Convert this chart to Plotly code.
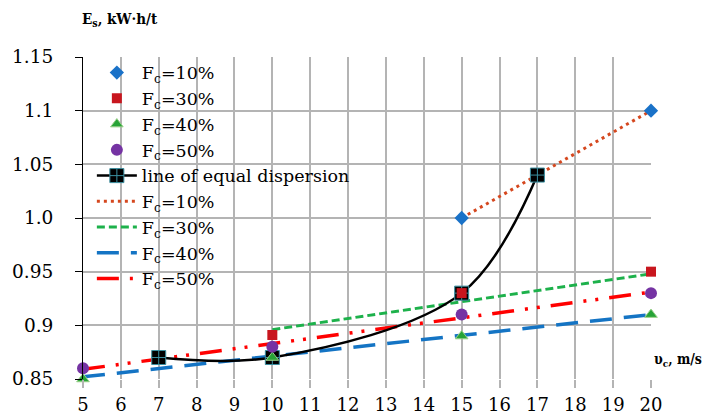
import plotly.graph_objects as go

# ---- data ----
x_f10 = [15, 20]
y_f10 = [1.00, 1.10]
x_f30 = [10, 15, 20]
y_f30 = [0.891, 0.930, 0.950]
x_f40 = [5, 10, 15, 20]
y_f40 = [0.850, 0.870, 0.890, 0.910]
x_f50 = [5, 10, 15, 20]
y_f50 = [0.860, 0.880, 0.910, 0.930]

x_equal = [7, 10, 15, 17]
y_equal = [0.870, 0.870, 0.930, 1.040]

# trend lines (end points)
x_t10 = [15, 20]
y_t10 = [1.000, 1.100]
x_t30 = [10, 20]
y_t30 = [0.896, 0.948]
x_t40 = [5, 20]
y_t40 = [0.852, 0.910]
x_t50 = [5, 20]
y_t50 = [0.859, 0.931]

x_ticks = list(range(5, 21))
y_ticks = [0.85, 0.90, 0.95, 1.00, 1.05, 1.10, 1.15]
y_tick_text = ["0.85", "0.9", "0.95", "1.0", "1.05", "1.1", "1.15"]

SERIF = "DejaVu Serif"
SERIF_COND = "DejaVu Serif Condensed, DejaVu Serif"
lbl = "F<sub>c</sub>=%s"

fig = go.Figure()

# trend lines
fig.add_trace(go.Scatter(x=x_t10, y=y_t10, mode="lines", name=lbl % "10%",
                         line=dict(color="#D5471E", width=3, dash="3px,4px"), legendrank=6))
fig.add_trace(go.Scatter(x=x_t30, y=y_t30, mode="lines", name=lbl % "30%",
                         line=dict(color="#1DB14B", width=3, dash="8px,4px"), legendrank=7))
fig.add_trace(go.Scatter(x=x_t40, y=y_t40, mode="lines", name=lbl % "40%",
                         line=dict(color="#1474C4", width=3.5, dash="22px,12px"), legendrank=8))
fig.add_trace(go.Scatter(x=x_t50, y=y_t50, mode="lines", name=lbl % "50%",
                         line=dict(color="#FF0000", width=3.5, dash="22px,11px,3px,9px,3px,11px"), legendrank=9))

# equal dispersion line
fig.add_trace(go.Scatter(x=x_equal, y=y_equal, mode="lines+markers", name="line of equal dispersion",
                         line=dict(color="black", width=2.5, shape="spline", smoothing=1.0),
                         marker=dict(symbol="square-cross", size=14, color="black",
                                     line=dict(color="#3A8FA0", width=1)),
                         cliponaxis=False, legendrank=5))

# data markers
fig.add_trace(go.Scatter(x=x_f10, y=y_f10, mode="markers", name=lbl % "10%",
                         marker=dict(symbol="diamond", size=11, color="#1A72C8"),
                         cliponaxis=False, legendrank=1))
fig.add_trace(go.Scatter(x=x_f30, y=y_f30, mode="markers", name=lbl % "30%",
                         marker=dict(symbol="square", size=10, color="#C8161E"),
                         cliponaxis=False, legendrank=2))
fig.add_trace(go.Scatter(x=x_f40, y=y_f40, mode="markers", name=lbl % "40%",
                         marker=dict(symbol="triangle-up", size=11, color="#27A337",
                                     line=dict(color="#9BD08A", width=1)),
                         cliponaxis=False, legendrank=3))
fig.add_trace(go.Scatter(x=x_f50, y=y_f50, mode="markers", name=lbl % "50%",
                         marker=dict(symbol="circle", size=12, color="#7533A3"),
                         cliponaxis=False, legendrank=4))

# the page body has an 8px margin, so the figure is 712x412 and margins are offset
fig.update_layout(
    width=712, height=412,
    margin=dict(l=75, r=69, t=49, b=41, autoexpand=False),
    paper_bgcolor="white", plot_bgcolor="white",
    font=dict(family=SERIF, size=18, color="black"),
    showlegend=True,
    legend=dict(x=0.0156, y=1.007, xanchor="left", yanchor="top",
                bgcolor="rgba(0,0,0,0)", font=dict(family=SERIF, size=17.5),
                tracegroupgap=0, itemwidth=40, maxheight=400),
    annotations=[
        dict(text="<b>E<sub>s</sub>, kW·h/t</b>", xref="paper", yref="paper", x=0, y=1,
             xanchor="left", yanchor="middle", xshift=-3, yshift=38, showarrow=False,
             font=dict(family=SERIF_COND, size=15)),
        dict(text="<b>υ<sub>c</sub>, m/s</b>", xref="paper", yref="y", x=1, y=0.868,
             xanchor="left", yanchor="middle", xshift=1, showarrow=False,
             font=dict(family=SERIF_COND, size=14)),
    ],
)

fig.update_xaxes(range=[5, 20], tickvals=x_ticks, ticktext=[str(v) for v in x_ticks],
                 automargin=False,
                 showgrid=True, gridcolor="#B4B4B4", gridwidth=1.5, zeroline=False,
                 showline=False, ticks="outside", ticklen=8, tickcolor="#B4B4B4", tickwidth=1.5,
                 ticklabelstandoff=1,
                 tickfont=dict(family=SERIF, size=18))
fig.update_yaxes(range=[0.85, 1.15], tickvals=y_ticks, ticktext=y_tick_text,
                 automargin=False,
                 showgrid=True, gridcolor="#B4B4B4", gridwidth=1.5, zeroline=False,
                 showline=True, linecolor="black", linewidth=1,
                 ticks="outside", ticklen=7, tickcolor="black", tickwidth=1,
                 ticklabelstandoff=18,
                 tickfont=dict(family=SERIF, size=18.5))

fig.write_html("out.html")
